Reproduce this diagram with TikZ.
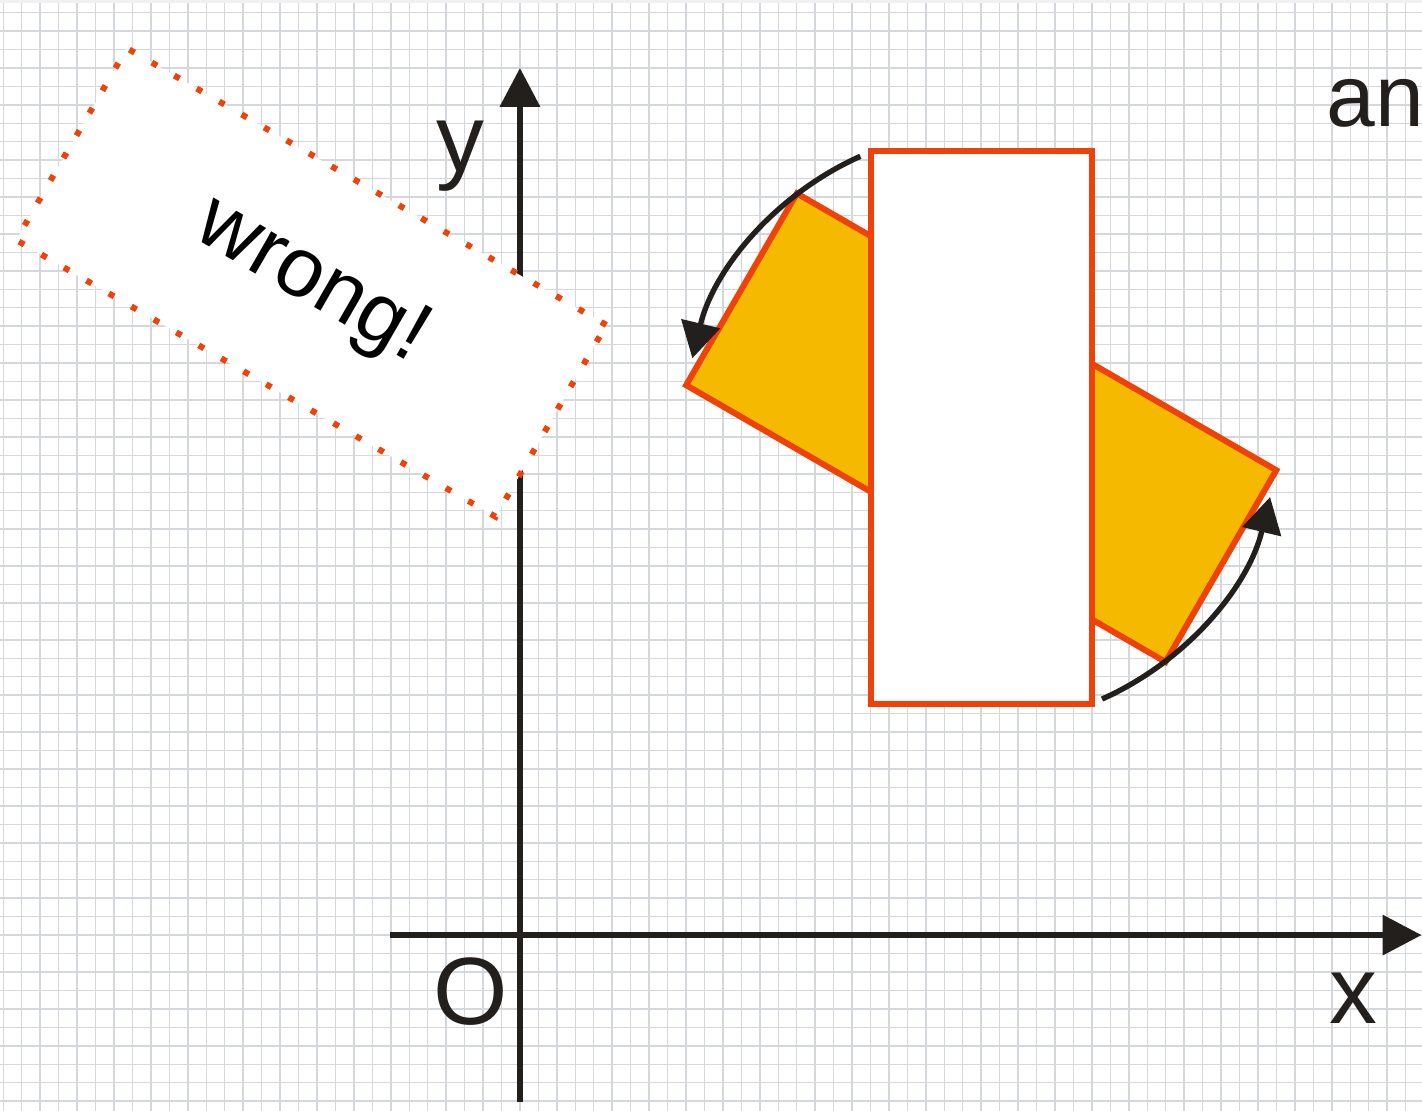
\documentclass[tikz,border=0pt]{standalone}
\usepackage{fontspec}
\setmainfont{Liberation Sans}
\usetikzlibrary{arrows.meta}
\definecolor{edgered}{RGB}{238,66,8}
\definecolor{boxorange}{RGB}{245,185,0}
\definecolor{inkblack}{RGB}{35,31,28}
\definecolor{gridgray}{RGB}{212,215,219}
\begin{document}
\begin{tikzpicture}[x=0.4cm,y=0.4cm,
 gridline/.style={gridgray,line width=0.9pt,xstep=0.4cm,ystep=0.4cm},
 axis/.style={inkblack,line width=4.1pt,-{Triangle[length=24pt,width=24pt]}},
 plate/.style={draw=edgered,line width=3.7pt,minimum width=4.8cm,minimum height=12cm,inner sep=0pt},
 turn/.style={inkblack,line width=3.3pt,-{Triangle[length=22pt,width=24pt]}},
 lbl/.style={inkblack,font=\fontsize{59}{60}\selectfont,inner sep=0pt,anchor=base}]
\useasboundingbox (-28.18,-9.49) rectangle (48.89,50.68);
\fill[white] (-28.18,-9.49) rectangle (48.89,50.68);
% squared paper
\draw[gridline] (-29,-10) grid (49,51);
\fill[gray!12] (-28.18,50.5) rectangle (48.89,50.68);
% axes
\coordinate (O) at (0,0);
\coordinate (xbeg) at (-7.05,0);
\coordinate (xend) at (48.87,0);
\coordinate (ybeg) at (0,-9.04);
\coordinate (yend) at (0,47);
\draw[axis] (xbeg) -- (xend);
\draw[axis] (ybeg) -- (yend);
% the rectangle, turned and upright
\node[plate,fill=boxorange,rotate=60] (tilted) at (25,27.5) {};
\node[plate,fill=white] (upright) at (25,27.5) {};
\node[plate,fill=white,dash pattern=on 3.7pt off 12.3pt,minimum width=12cm,minimum height=4.8cm,rotate=-30,
 font=\fontsize{52}{53}\selectfont] (wrong) at (-11.31,35.37) {wrong!};
% turning arrows
\draw[turn] ([shift={(114:16.1)}]upright.center) arc[start angle=114,end angle=166.5,radius=16.1];
\draw[turn] ([shift={(-66:16.1)}]upright.center) arc[start angle=-66,end angle=-13.5,radius=16.1];
% labels
\node[lbl] (ylbl) at (-3.25,41.36) {y};
\node[lbl] (olbl) at (-2.69,-4.82) {O};
\node[lbl] (xlbl) at (45.17,-4.77) {x};
\node[lbl,anchor=base west,font=\fontsize{54}{55}\selectfont] (andlbl) at (43.69,43.81) {an};
\end{tikzpicture}
\end{document}
